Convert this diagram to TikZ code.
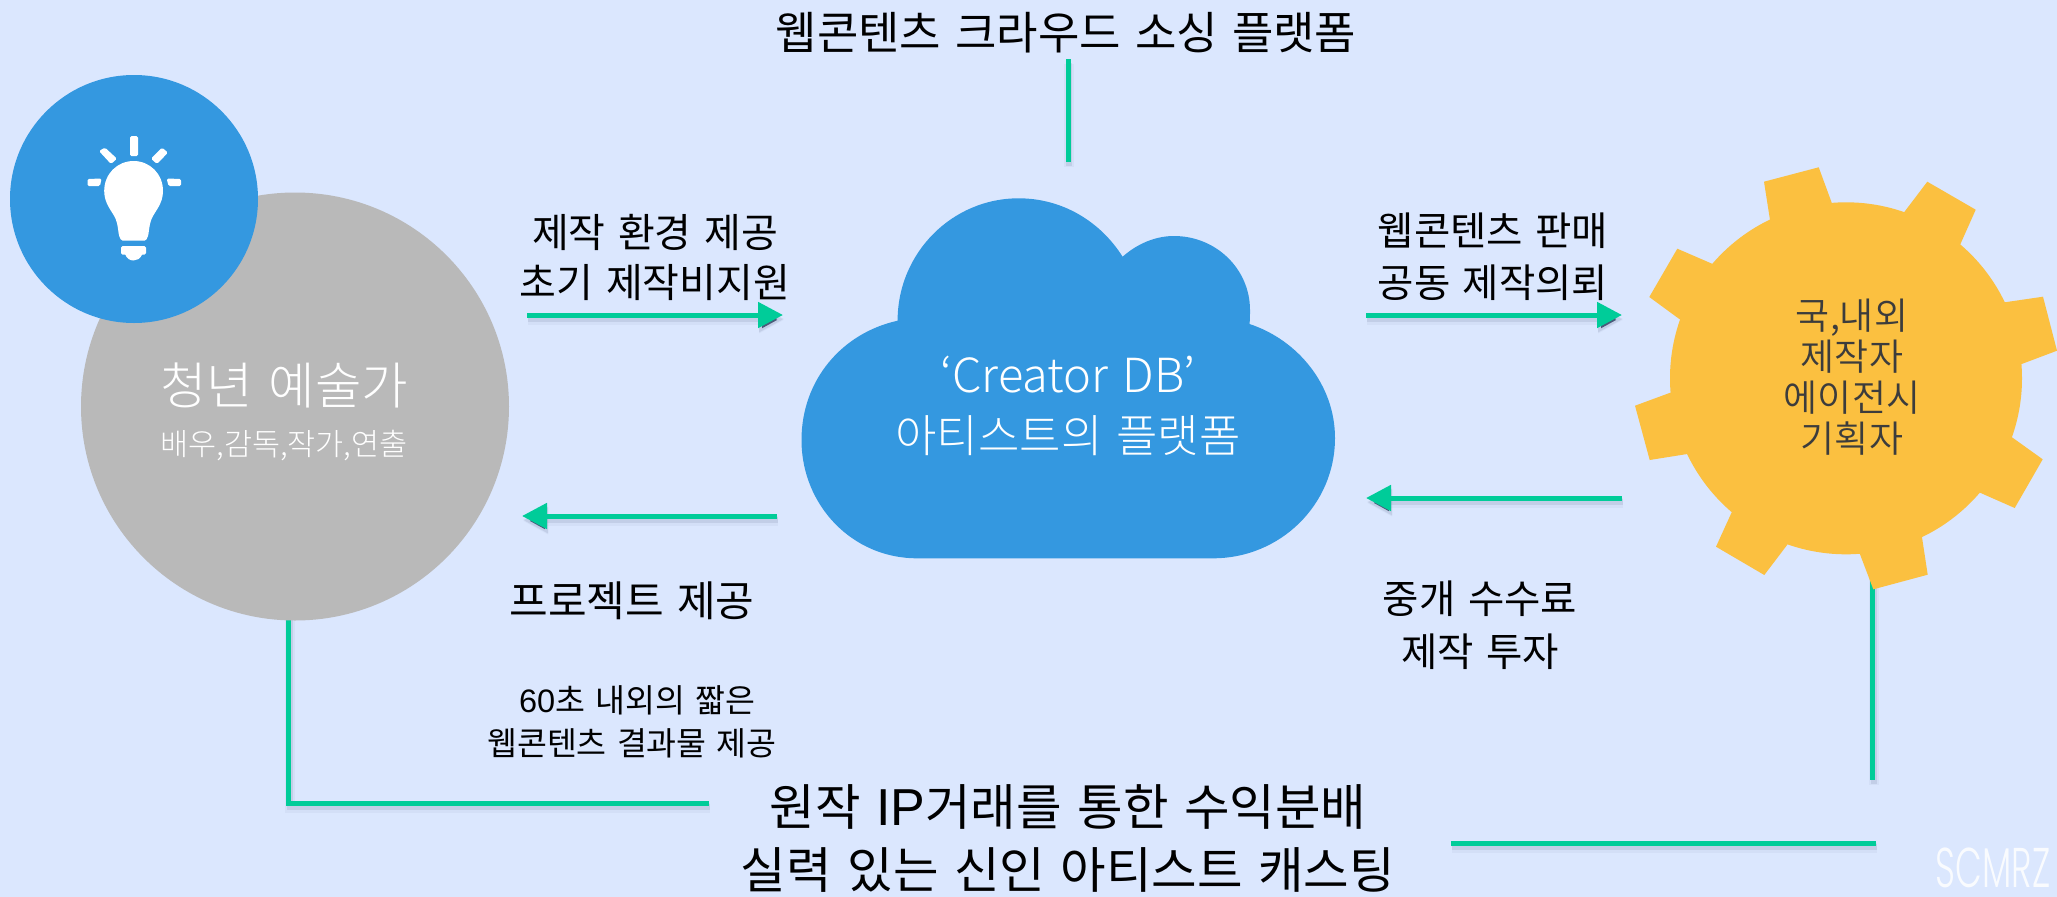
\documentclass[tikz,border=0pt]{standalone}
\usepackage{fontspec}
\usetikzlibrary{arrows.meta}
\setmainfont[WordSpace=1.4]{Noto Sans CJK KR}
\newfontfamily\krlight[WordSpace=1.4]{Noto Sans CJK KR Light}
\newfontfamily\krdemi[WordSpace=1.4]{Noto Sans CJK KR DemiLight}
\newfontfamily\lat{Liberation Sans}
\newfontfamily\wmark{Poppins Light}
\definecolor{bgc}{HTML}{DBE7FE}
\definecolor{bluec}{HTML}{3498E0}
\definecolor{grayc}{HTML}{B9B9B9}
\definecolor{gearc}{HTML}{FBC040}
\definecolor{greenc}{HTML}{00CC99}
\definecolor{shadowc}{HTML}{4A5A7A}
\definecolor{geartext}{HTML}{3C3C3C}
\newcommand{\fs}[2]{\fontsize{#1}{#2}\selectfont}
\tikzset{
  every node/.style={inner sep=0pt,outer sep=0pt,align=center},
  flow/.style={draw=greenc,line width=5pt,line cap=butt,
    preaction={draw=shadowc,draw opacity=.05,line width=10pt,transform canvas={shift={(1pt,-5pt)}}},
    preaction={draw=shadowc,draw opacity=.12,line width=6pt,transform canvas={shift={(1pt,-4pt)}}}},
  tipped/.style={flow,-{Triangle[length=25pt,width=25pt]}},
  white label/.style={text=white},
  black label/.style={text=black}
}
\begin{document}
\begin{tikzpicture}[x=1pt,y=-1pt]
\useasboundingbox (0,0) rectangle (2057,897);
\fill[bgc] (0,0) rectangle (2057,897);

% free ends of the connectors
\coordinate (topA) at (1068.4,59);
\coordinate (topB) at (1068.4,162);
\coordinate (a1) at (527,315);
\coordinate (a2) at (783,315);
\coordinate (b1) at (777,516);
\coordinate (b2) at (522,516);
\coordinate (c1) at (1366,315);
\coordinate (c2) at (1622,315);
\coordinate (d1) at (1622,498);
\coordinate (d2) at (1366,498);
\coordinate (leftA) at (288.6,610);
\coordinate (leftB) at (288.6,803);
\coordinate (leftC) at (709,803);
\coordinate (rightA) at (1872.7,570);
\coordinate (rightB) at (1872.7,780);
\coordinate (lowA) at (1451,843);
\coordinate (lowB) at (1876,843);

% connectors
\draw[flow] (topA) -- (topB);
\draw[tipped] (a1) -- (a2);
\draw[tipped] (b1) -- (b2);
\draw[tipped] (c1) -- (c2);
\draw[tipped] (d1) -- (d2);
\draw[flow] (leftA) -- (leftB) -- (leftC);
\draw[flow] (rightA) -- (rightB);
\draw[flow] (lowA) -- (lowB);

% gray circle and blue circle
\node[circle,fill=grayc,minimum size=428pt] (artist) at (295,406.5) {};
\node[circle,fill=bluec,minimum size=248pt] (idea) at (134,199) {};

% light bulb
\fill[white] (133.6,161) .. controls (150,161) and (163,174) .. (163,191)
  .. controls (163,204) and (155,211) .. (151.5,219)
  .. controls (149,225) and (149,233) .. (148,236)
  .. controls (147,239) and (146,240.6) .. (144.6,240.6)
  -- (122.6,240.6)
  .. controls (121.2,240.6) and (120.2,239) .. (119.2,236)
  .. controls (118.2,233) and (118.2,225) .. (115.7,219)
  .. controls (112.2,211) and (104.2,204) .. (104.2,191)
  .. controls (104.2,174) and (117.2,161) .. (133.6,161) -- cycle;
\fill[white,rounded corners=1.5pt] (121,246) -- (146,246) -- (146,254.5) -- (142.5,254.5) -- (121,254.5) -- cycle;
\fill[white] (125,254) .. controls (127,259) and (130,260.5) .. (133.6,260.5) .. controls (137,260.5) and (140,259) .. (142.5,254) -- cycle;
\fill[white,rounded corners=1.5pt] (130,136) -- (138,136) -- (138,156) -- (130,156) -- cycle;
\fill[white,rounded corners=1.5pt] (99,151) -- (105,147.6) -- (117,158.7) -- (111,164) -- cycle;
\fill[white,rounded corners=1.5pt] (162,147.6) -- (168,152.6) -- (157,164) -- (151,158.7) -- cycle;
\fill[white,rounded corners=1.5pt] (87.5,179) -- (101.6,178.5) -- (100,186) -- (87.5,186) -- cycle;
\fill[white,rounded corners=1.5pt] (166.7,178.5) -- (181,179) -- (181,186) -- (168.5,186) -- cycle;

% cloud
\fill[bluec] (897.6,320.7)
  .. controls (897.6,253) and (952,198.3) .. (1018.6,198.3)
  .. controls (1062,198.3) and (1100,221) .. (1122.6,256.7)
  .. controls (1137,244) and (1155,236) .. (1174,236)
  .. controls (1216,236) and (1250,269) .. (1250,310)
  .. controls (1250,315) and (1250,320) .. (1249.5,324)
  .. controls (1298,340) and (1335,385) .. (1335,438)
  .. controls (1335,505) and (1280,558.3) .. (1213,558.3)
  -- (917,558.3)
  .. controls (852,558.3) and (801.5,505) .. (801.5,440)
  .. controls (801.5,380) and (842,333) .. (897.6,320.7) -- cycle;

% gear
\node[circle,fill=gearc,minimum size=352pt] (gear) at (1846,378.3) {};
\fill[gearc] (1770,220) -- (1764,181.7) -- (1818.7,167.3) -- (1831.7,202.7) -- (gear.center) -- cycle;
\fill[gearc] (1904.3,212) -- (1927.3,181.7) -- (1975.7,209.7) -- (1960,245) -- (gear.center) -- cycle;
\fill[gearc] (2004.7,302.3) -- (2043,296.7) -- (2057,350.7) -- (2021.7,364) -- (gear.center) -- cycle;
\fill[gearc] (2012,437.3) -- (2042.7,459.3) -- (2014.7,508) -- (1980,492.7) -- (gear.center) -- cycle;
\fill[gearc] (1922,537.3) -- (1927.7,574.7) -- (1873.3,589.3) -- (1860,554.3) -- (gear.center) -- cycle;
\fill[gearc] (1787.3,544.7) -- (1764.3,575) -- (1716,546.7) -- (1731.7,512.3) -- (gear.center) -- cycle;
\fill[gearc] (1687.3,454) -- (1649.7,460) -- (1635,405.7) -- (1670.3,392.7) -- (gear.center) -- cycle;
\fill[gearc] (1679.7,319.3) -- (1649.3,297) -- (1677.3,248.7) -- (1712,263.7) -- (gear.center) -- cycle;

% labels
\node[black label,font=\fs{45}{54}] (top) at (1066,33) {웹콘텐츠 크라우드 소싱 플랫폼};
\node[white label,font=\krlight\fs{50.5}{60}] (artistname) at (284,385) {청년 예술가};
\node[white label,font=\krlight\fs{30.5}{36}] (artistroles) at (284,446) {배우,감독,작가,연출};
\node[black label,font=\fs{40}{50}] (tocloud) at (655,257) {제작 환경 제공\\초기 제작비지원};
\node[black label,font=\fs{42}{50}] (project) at (632,601) {프로젝트 제공};
\node[black label,font=\fs{32.5}{43}] (short) at (632,721.5) {\hspace*{10pt}{\lat 60}초 내외의 짧은\\웹콘텐츠 결과물 제공};
\node[white label,font=\krlight\fs{45}{60}] (cloudname) at (1068,406) {{\fontsize{47}{60}\selectfont ‘Creator DB’}\\아티스트의 플랫폼};
\node[black label,font=\fs{39.5}{51.5}] (tomaker) at (1493,256.5) {웹콘텐츠 판매\\공동 제작의뢰};
\node[black label,font=\fs{39.5}{53}] (tocloud2) at (1480,625.5) {중개 수수료\\제작 투자};
\node[text=geartext,font=\krdemi\fs{37}{41}] (makers) at (1852,377) {국,내외\\제작자\\에이전시\\기획자};
\node[black label,font=\fs{49.5}{63}] (bottom) at (1068,838) {원작 {\lat\fontsize{52}{63}\selectfont IP}거래를 통한 수익분배\\실력 있는 신인 아티스트 캐스팅};
\node[text=white,opacity=.85,font=\wmark\fs{56}{56}] (mark) at (1993,868) {\scalebox{.62}[1]{SCMRZ}};
\end{tikzpicture}
\end{document}
